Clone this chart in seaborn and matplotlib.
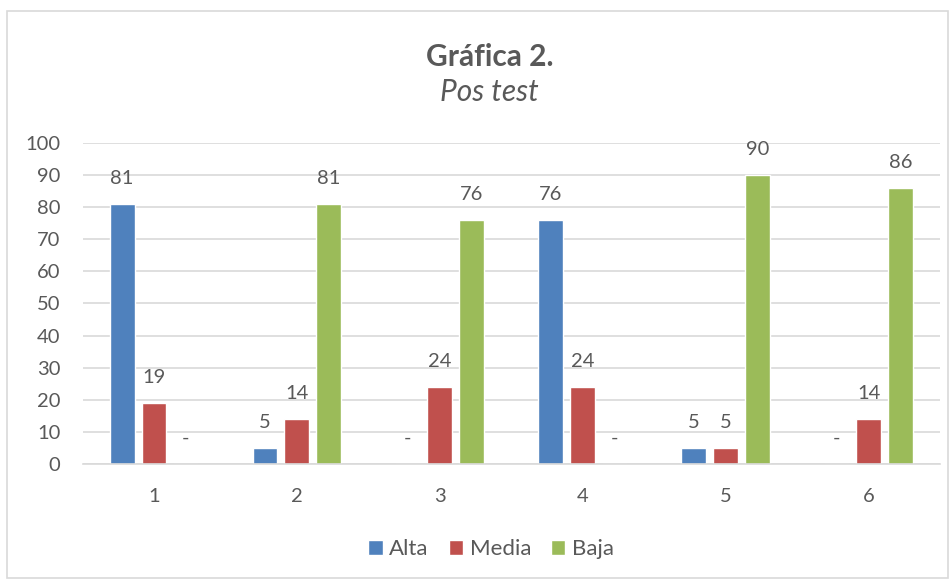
import matplotlib

matplotlib.use("Agg")

import matplotlib.pyplot as plt
import pandas as pd
import seaborn as sns
from matplotlib.patches import Rectangle

# data
items = ["1", "2", "3", "4", "5", "6"]
levels = ["Alta", "Media", "Baja"]
alta = [81, 5, 0, 76, 5, 0]
media = [19, 14, 24, 24, 5, 14]
baja = [0, 81, 76, 0, 90, 86]

colors = ["#4F81BD", "#C0504D", "#9BBB59"]
text_color = "#595959"

sns.set_theme(style="white")
plt.rcParams["font.family"] = ["Lato", "DejaVu Sans"]

rows = []
for level, values in zip(levels, [alta, media, baja]):
    for item, value in zip(items, values):
        rows.append({"item": item, "nivel": level, "valor": value})
data_frame = pd.DataFrame(rows)

fig = plt.figure(figsize=(9.52, 5.81), dpi=100)
ax = fig.add_axes([0.0867, 0.2014, 0.9008, 0.5525])

sns.barplot(
    data=data_frame,
    x="item",
    y="valor",
    hue="nivel",
    hue_order=levels,
    order=items,
    palette=colors,
    width=0.67,
    gap=0.22,
    saturation=1,
    errorbar=None,
    ax=ax,
)

# zero values are shown as "-" like in the original
for container in ax.containers:
    labels = ["-" if bar.get_height() == 0 else f"{bar.get_height():.0f}" for bar in container]
    ax.bar_label(container, labels=labels, padding=12.5, fontsize=14.5, color=text_color)

ax.set_xlim(-0.5, 5.5)
ax.set_ylim(0, 100)
ax.set_yticks(range(0, 101, 10))
ax.grid(axis="y", color="#d9d9d9", linewidth=1.2)
ax.set_axisbelow(True)
for side in ["top", "right", "left"]:
    ax.spines[side].set_visible(False)
ax.spines["bottom"].set_color("#d9d9d9")
ax.spines["bottom"].set_linewidth(1.2)
ax.tick_params(axis="both", length=0, labelsize=14.5, labelcolor=text_color)
ax.tick_params(axis="y", pad=16)
ax.tick_params(axis="x", pad=17)
ax.set_xlabel("")
ax.set_ylabel("")

ax.legend(
    loc="center",
    bbox_to_anchor=(0.516, 0.055),
    bbox_transform=fig.transFigure,
    ncol=3,
    frameon=False,
    fontsize=16,
    labelcolor=text_color,
    handlelength=0.64,
    handleheight=0.64,
    handletextpad=0.3,
    columnspacing=0.9,
)

fig.text(0.514, 0.902, "Gráfica 2.", ha="center", va="center", fontsize=21.5,
         fontweight="bold", color=text_color)
fig.text(0.514, 0.842, "Pos test", ha="center", va="center", fontsize=21.5,
         fontstyle="italic", color=text_color)

fig.patches.append(Rectangle((0.0074, 0.005), 0.988, 0.976, transform=fig.transFigure,
                             fill=False, edgecolor="#d9d9d9", linewidth=1.2))

fig.savefig("out.png", dpi=100)
